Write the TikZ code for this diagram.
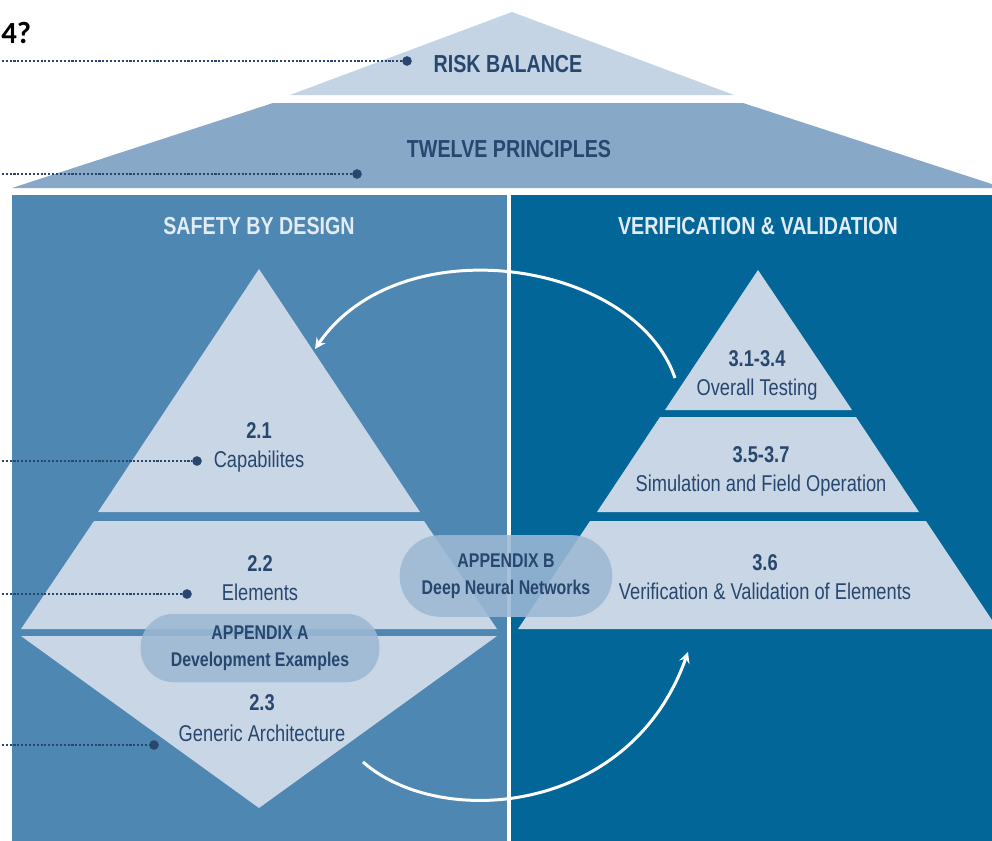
\documentclass[tikz,border=0pt]{standalone}
\usepackage{fontspec}
\setmainfont{Liberation Sans}[FakeStretch=0.8]
\newfontfamily\qfont{Carlito}
\usepackage{tikz}
\usetikzlibrary{positioning,arrows.meta}

\definecolor{roofpale}{HTML}{C5D4E4}
\definecolor{roofmid}{HTML}{88A8C8}
\definecolor{sbdblue}{HTML}{4D87B2}
\definecolor{vvblue}{HTML}{036699}
\definecolor{pyr}{HTML}{C9D6E5}
\definecolor{pillblue}{HTML}{9DB9D5}
\definecolor{ink}{HTML}{28476F}
\definecolor{headtxt}{HTML}{E3EBF4}

\begin{document}
\begin{tikzpicture}[x=0.02cm, y=-0.02cm, node distance=6.5pt,
    hd/.style={font=\bfseries\fontsize{14}{16}\selectfont, inner sep=0pt},
    num/.style={font=\bfseries\fontsize{13}{15}\selectfont, text=ink, inner sep=0pt, text height=9.5pt, text depth=0pt},
    lbl/.style={font=\fontsize{13}{15}\selectfont, text=ink, inner sep=0pt, text height=9.5pt, text depth=2.7pt},
    pill/.style={fill=pillblue, fill opacity=0.88, text opacity=1, align=center, text=ink, inner sep=0pt,
                 font=\bfseries\fontsize{11.3}{15.6}\selectfont},
    pin/.style={circle, fill=ink, inner sep=0pt, minimum size=5.5pt},
    lead/.style={draw=ink, line width=0.8pt, dash pattern=on 1.2pt off 1pt},
    flow/.style={draw=white, line width=1.7pt}]
    \useasboundingbox (0,0) rectangle (992,840);
    \clip (0,0) rectangle (992,840);
    \fill[white] (0,0) rectangle (992,840);

    % roof
    \fill[roofpale] (512,12) -- (734,95) -- (290,95) -- cycle;
    \fill[roofmid] (273,103) -- (743,103) -- (1004,188) -- (12,188) -- cycle;

    % the two walls
    \fill[sbdblue] (12,195) rectangle (507,845);
    \fill[vvblue] (511,195) rectangle (1000,845);

    % left pyramid
    \fill[pyr] (259,269) -- (420,512) -- (98,512) -- cycle;
    \fill[pyr] (94,521) -- (424,521) -- (497,629) -- (21,629) -- cycle;
    \fill[pyr] (21,636) -- (497,636) -- (259,808) -- cycle;

    % right pyramid
    \fill[pyr] (758,270) -- (852,410) -- (665,410) -- cycle;
    \fill[pyr] (660,417) -- (856,417) -- (919,512) -- (597,512) -- cycle;
    \fill[pyr] (590,521) -- (926,521) -- (998,629) -- (518,629) -- cycle;

    \node[hd, text=ink] (risk) at (508,64) {RISK BALANCE};
    \node[hd, text=ink] (twelve) at (509,149) {TWELVE PRINCIPLES};
    \node[hd, text=headtxt] (sbd) at (259,226) {SAFETY BY DESIGN};
    \node[hd, text=headtxt] (vv) at (758,226) {VERIFICATION \& VALIDATION};
    \node[anchor=west, inner sep=0pt, font=\qfont\bfseries\fontsize{17.5}{19}\selectfont] (ask) at (1,33) {4?};

    \node[num] (n21) at (259,430) {2.1};
    \node[lbl, below=of n21] (capab) {Capabilites};
    \node[num] (n22) at (260,563) {2.2};
    \node[lbl, below=of n22] (elem) {Elements};
    \node[num] (n23) at (262,702) {2.3};
    \node[lbl, below=8pt of n23] (arch) {Generic Architecture};

    \node[num] (n31) at (757,358) {3.1-3.4};
    \node[lbl, below=of n31] (overall) {Overall Testing};
    \node[num] (n35) at (761,454) {3.5-3.7};
    \node[lbl, below=of n35] (simfield) {Simulation and Field Operation};
    \node[num] (n36) at (765,562) {3.6};
    \node[lbl, below=of n36] (vvelem) {Verification \& Validation of Elements};

    \node[pill, minimum width=136pt, minimum height=39pt, rounded corners=19pt] (appa) at (260,648)
        {APPENDIX A\\Development Examples};
    \node[pill, minimum width=121pt, minimum height=46.5pt, rounded corners=23pt] (appb) at (506,576)
        {APPENDIX B\\Deep Neural Networks};

    \node[pin] (p1) at (407,61) {};
    \node[pin] (p2) at (357,174) {};
    \node[pin] (p3) at (197,461) {};
    \node[pin] (p4) at (187,594) {};
    \node[pin] (p5) at (154,745) {};
    \coordinate (l1) at (-2,61);
    \coordinate (l2) at (-2,174);
    \coordinate (l3) at (-2,461);
    \coordinate (l4) at (-2,594);
    \coordinate (l5) at (-2,745);
    \draw[lead] (l1) -- (p1);
    \draw[lead] (l2) -- (p2);
    \draw[lead] (l3) -- (p3);
    \draw[lead] (l4) -- (p4);
    \draw[lead] (l5) -- (p5);

    \coordinate (vvout) at (675,378);
    \coordinate (sbdin) at (315,349);
    \coordinate (sbdout) at (363,762);
    \coordinate (vvin) at (688,652);
    \draw[flow, ->, >=stealth] (vvout) .. controls (635,260) and (400,225) .. (sbdin);
    \draw[flow, ->, >=stealth] (sbdout) .. controls (440,830) and (630,815) .. (vvin);
\end{tikzpicture}
\end{document}
